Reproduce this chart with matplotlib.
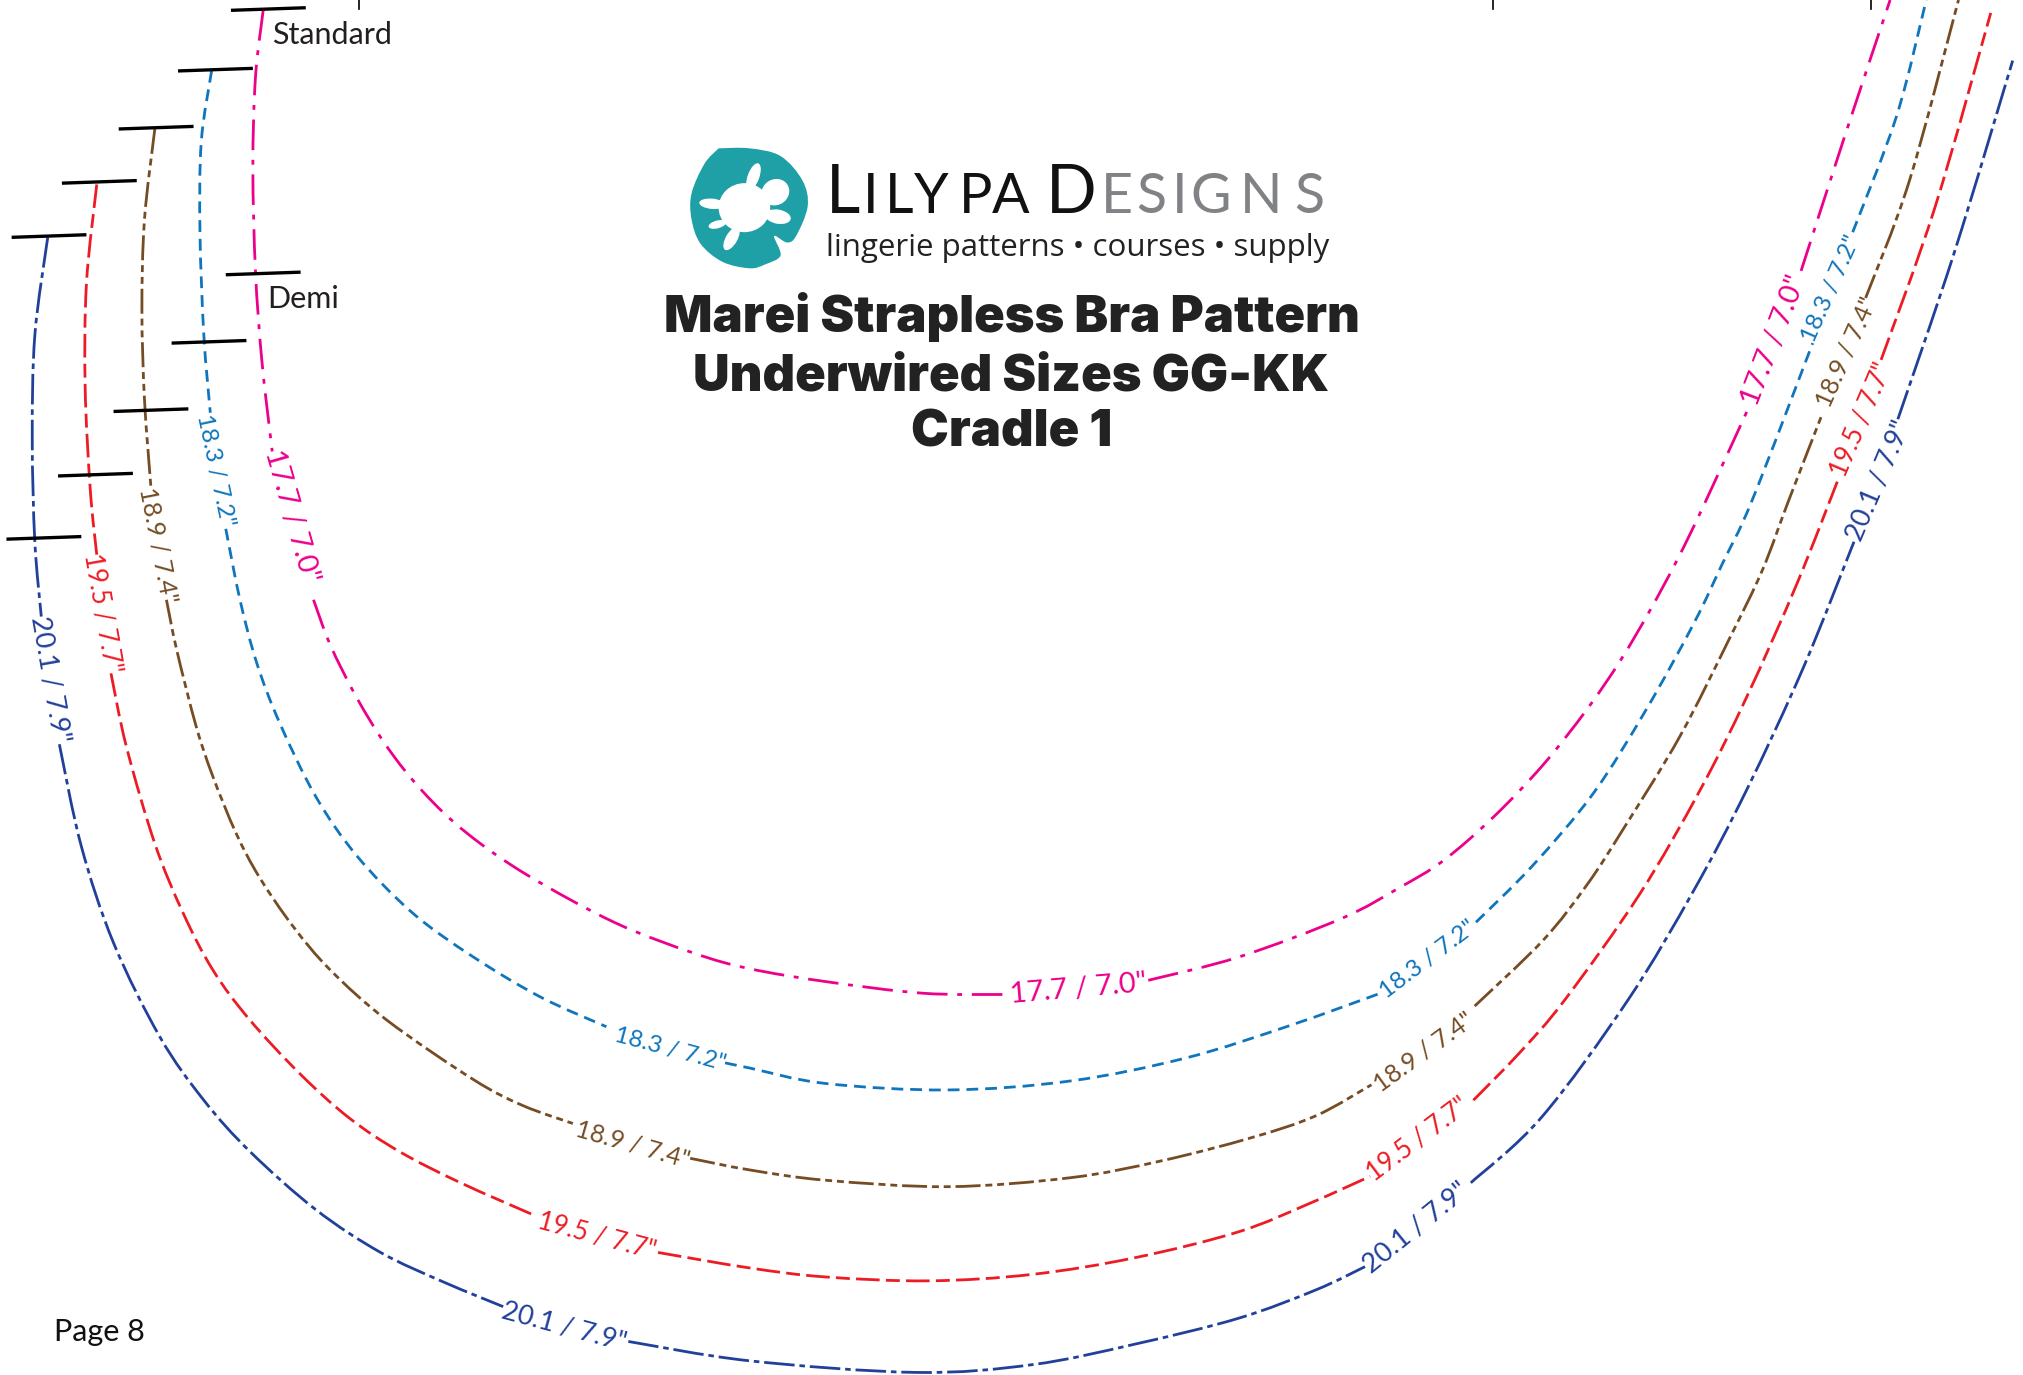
import matplotlib
matplotlib.use('Agg')
import matplotlib.pyplot as plt
import matplotlib.patches as patches
from matplotlib.path import Path
import numpy as np

plt.rcParams['lines.scale_dashes'] = False

magenta_pts = [
    [(204, 8), (198, 60), (196, 130), (198, 210), (203, 280), (211, 350)],
    [(243, 465), (256, 500), (276, 540), (300, 579), (328, 614), (362, 646), (408, 678), (476, 715), (538, 739), (581, 751), (640, 761), (715, 770), (778, 771)],
    [(890, 760), (960, 742), (1040, 712), (1085, 688), (1119, 667), (1158, 633), (1196, 593), (1230, 550), (1256, 512), (1279, 473), (1300, 434), (1320, 393), (1354, 319)],
    [(1396, 210), (1430, 105), (1465, 0)],
]
blue_pts = [
    [(164, 55), (156, 110), (155, 180), (158, 260), (163, 320)],
    [(175, 410), (186, 465), (199, 514), (217, 561), (245, 618), (277, 664), (320, 708), (367, 742), (419, 773), (470, 796)],
    [(562, 824), (581, 828), (640, 840), (735, 845), (830, 838), (920, 820), (1000, 795), (1070, 770)],
    [(1144, 715), (1188, 671), (1235, 615), (1276, 550), (1313, 483), (1335, 437), (1358, 388), (1405, 266)],
    [(1436, 180), (1470, 90), (1493, 0)],
]
brown_pts = [
    [(120, 100), (112, 170), (110, 240), (112, 310), (117, 378)],
    [(129, 465), (137, 504), (152, 563), (165, 602), (183, 646), (201, 680), (227, 718), (256, 752), (300, 791), (367, 837), (405, 857), (444, 871)],
    [(535, 898), (581, 907), (640, 915), (735, 920), (830, 913), (900, 900), (970, 882), (1020, 865), (1063, 841)],
    [(1143, 780), (1196, 729), (1230, 686), (1258, 643), (1302, 571), (1341, 494), (1366, 442), (1386, 389), (1412, 322)],
    [(1446, 231), (1480, 140), (1518, 0)],
]
red_pts = [
    [(75, 143), (67, 220), (66, 300), (70, 380), (75, 430)],
    [(86, 522), (98, 579), (120, 654), (142, 708), (165, 752), (193, 790), (233, 833), (271, 867), (310, 893), (357, 917), (416, 943)],
    [(510, 971), (581, 983), (640, 990), (720, 993), (800, 988), (880, 975), (960, 955), (1015, 933), (1062, 912)],
    [(1142, 853), (1178, 816), (1213, 775), (1271, 693), (1318, 612), (1354, 540), (1393, 452), (1425, 371)],
    [(1458, 279), (1500, 160), (1543, 10)],
]
navy_pts = [
    [(37, 184), (27, 260), (25, 340), (27, 420), (32, 478)],
    [(46, 577), (63, 656), (88, 731), (124, 804), (158, 853), (194, 893), (245, 938), (295, 971), (344, 994), (390, 1013)],
    [(487, 1040), (581, 1055), (710, 1064), (800, 1058), (880, 1042), (960, 1022), (1020, 1000), (1058, 982)],
    [(1140, 917), (1195, 866), (1262, 775), (1313, 690), (1354, 612), (1398, 517), (1437, 420)],
    [(1471, 325), (1515, 195), (1560, 47)],
]

curve_colors = ['#ec008c', '#0f75bc', '#754c24', '#ed1c24', '#21409a']
curve_labels = ['17.7 / 7.0"', '18.3 / 7.2"', '18.9 / 7.4"', '19.5 / 7.7"', '20.1 / 7.9"']
label_sizes = [21, 17.5, 18, 18.5, 19.5]
curve_dashes = [
    (22, 7, 3.5, 7),
    (8.5, 5),
    (18, 3.5, 5, 3.5, 5, 3.5),
    (17, 4.5, 10, 4.5),
    (22, 3.5, 4, 3.5),
]

# one (x, y, rotation) per label of each curve
magenta_labels = [(228, 400, -74), (836, 765, 5), (1373, 263, 69)]
blue_labels = [(168, 364, -78), (520, 812, -15), (1106, 743, 37), (1418, 223, 66)]
brown_labels = [(124, 422, -79), (491, 886, -16), (1103, 814, 36), (1430, 272, 66)]
red_labels = [(81, 475, -80), (463, 956, -15), (1098, 882, 37), (1441, 325, 67)]
navy_labels = [(41, 526, -80), (438, 1027, -15), (1096, 950, 39), (1454, 372, 67)]

top_marks = [(179, 8, 237, 6), (138, 55, 196, 53), (92, 100, 150, 98), (48, 142, 106, 140), (9, 184, 67, 182)]
demi_marks = [(175, 213, 233, 211), (133, 266, 191, 264), (88, 319, 146, 317), (45, 369, 103, 367), (5, 418, 63, 416)]
edge_ticks = [278, 1157, 1450]

title_lines = ['Marei Strapless Bra Pattern', 'Underwired Sizes GG-KK', 'Cradle 1']
title_y = [246, 292, 336]

logo_letters = ['L', 'I', 'L', 'Y', 'P', 'A', 'D', 'E', 'S', 'I', 'G', 'N', 'S']
logo_x = [640, 669, 686, 708, 743, 769, 811, 853, 881, 908, 923, 961, 1003]

pad_outline = [(557, 115), (581, 115), (605, 121), (622, 140), (626, 160), (617, 183), (610, 188), (600, 183),
               (605, 198), (593, 205), (581, 208), (560, 203), (543, 189), (536, 170), (536, 150), (546, 127)]
# x, y, width, height, angle
turtle_parts = [(577, 161, 40, 38, 0), (601, 149, 22, 20, -30), (584, 137, 9, 22, 20), (552, 158, 20, 8, 5),
                (567, 185, 9, 20, 30), (603, 168, 20, 11, 10), (556, 174, 14, 6, -15)]


def smooth_path(pts):
    # Catmull-Rom through the read points, written as Bezier pieces
    pts = np.array(pts, dtype=float)
    verts = [pts[0]]
    codes = [Path.MOVETO]
    for i in range(len(pts) - 1):
        p0 = pts[max(i - 1, 0)]
        p1 = pts[i]
        p2 = pts[i + 1]
        p3 = pts[min(i + 2, len(pts) - 1)]
        verts += [p1 + (p2 - p0) / 6, p2 - (p3 - p1) / 6, p2]
        codes += [Path.CURVE4] * 3
    return Path(verts, codes)


fig = plt.figure(figsize=(20.23, 13.75), dpi=100)
ax = fig.add_axes([0, 0, 1, 1])
ax.set_xlim(0, 1568)
ax.set_ylim(1066, 0)
ax.axis('off')

all_curves = [magenta_pts, blue_pts, brown_pts, red_pts, navy_pts]
all_labels = [magenta_labels, blue_labels, brown_labels, red_labels, navy_labels]

for segments, color, dashes in zip(all_curves, curve_colors, curve_dashes):
    for seg in segments:
        ax.add_patch(patches.PathPatch(smooth_path(seg), fill=False, edgecolor=color, lw=2.0,
                                       linestyle=(0, dashes), capstyle='butt'))

for places, color, label, size in zip(all_labels, curve_colors, curve_labels, label_sizes):
    for x, y, rot in places:
        ax.text(x, y, label, color=color, fontsize=size, family='Lato', rotation=rot,
                rotation_mode='anchor', ha='center', va='center_baseline')

for x0, y0, x1, y1 in top_marks + demi_marks:
    ax.plot([x0, x1], [y0, y1], color='black', lw=2.4, solid_capstyle='butt')
for x in edge_ticks:
    ax.plot([x, x], [0, 7], color='black', lw=1.2)

ax.text(211, 25, 'Standard', fontsize=22, family='Lato', color='#231f20', va='center_baseline')
ax.text(207, 230, 'Demi', fontsize=22, family='Lato', color='#231f20', va='center_baseline')
ax.text(42, 1031, 'Page 8', fontsize=22, family='Lato', color='#111111', va='center_baseline')

for line, y in zip(title_lines, title_y):
    ax.text(784, y, line, fontsize=36.5, family='Inter', weight='black', color='#222222', ha='center', va='center')

# logo
ax.add_patch(patches.PathPatch(smooth_path(pad_outline + pad_outline[:1]), facecolor='#1f9fa6', edgecolor='none'))
for x, y, w, h, ang in turtle_parts:
    ax.add_patch(patches.Ellipse((x, y), w, h, angle=ang, facecolor='white', edgecolor='none'))
for i, (ch, x) in enumerate(zip(logo_letters, logo_x)):
    big = ch in 'LD' and i in (0, 6)
    ax.text(x, 165, ch, fontsize=48 if big else 40, family='Lato', weight='normal',
            color='#111111' if i < 7 else '#808285', ha='left', va='baseline')
ax.text(640, 192, 'lingerie patterns • courses • supply', fontsize=22.5, family='Open Sans',
        color='#222222', ha='left', va='center')

fig.savefig('out.png', dpi=100, facecolor='white')
